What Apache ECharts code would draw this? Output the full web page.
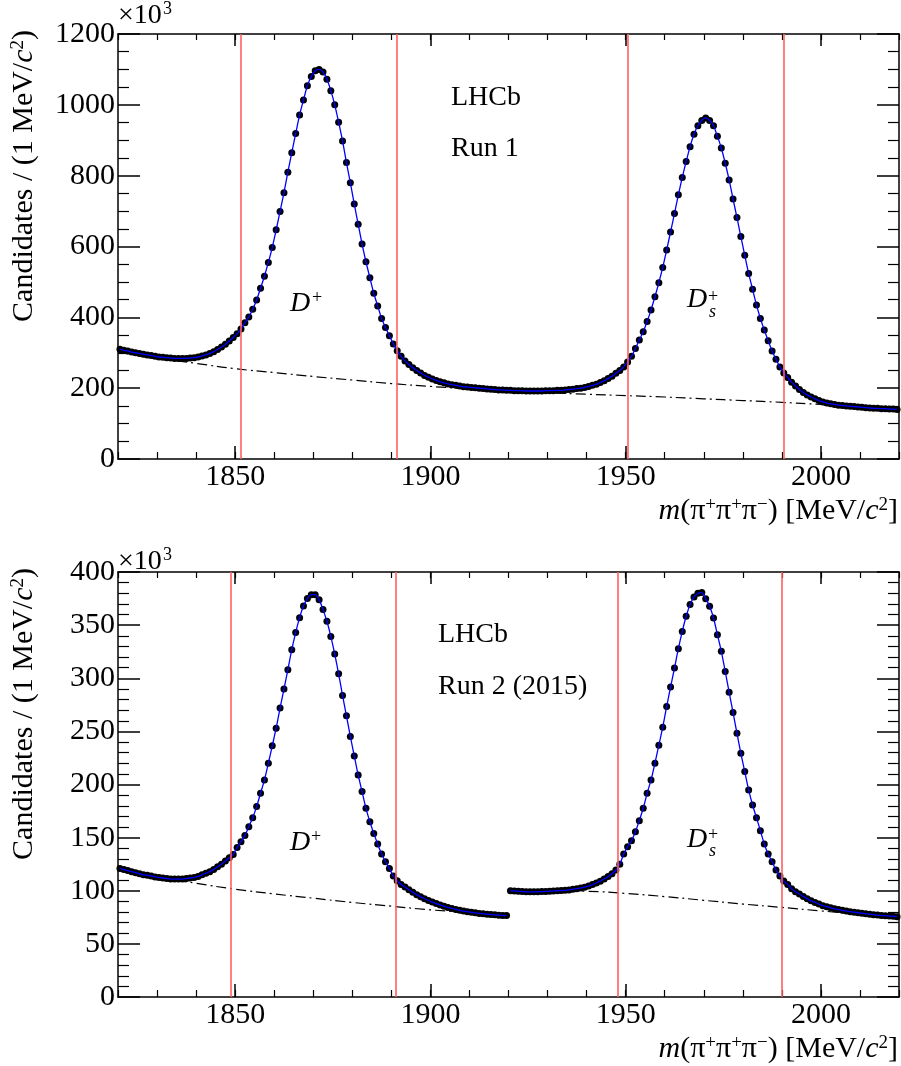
<!DOCTYPE html>
<html>
<head>
<meta charset="utf-8">
<script src="https://cdn.jsdelivr.net/npm/echarts@6/dist/echarts.min.js"></script>
<style>
html,body{margin:0;padding:0;background:#fff;}
#c{width:901px;height:1066px;}
</style>
</head>
<body>
<div id="c"></div>
<script>
// ---------- DATA (values in units of 10^3 candidates per 1 MeV/c^2 bin) ----------
const binStart = 1820.5;           // first bin centre
const xMajor = [1850, 1900, 1950, 2000];

// Run 1 : 200 bins, 1820.5 ... 2019.5
const run1Counts = [
  310,307,305,302,300,298,296,294,292,290,288,287,286,285,284,284,284,284,285,286,
  288,291,294,298,303,309,316,324,333,343,354,
  367,385,401,423,449,482,516,555,597,647,699,752,810,865,919,971,1014,1054,1080,1096,
  1100,1093,1072,1040,1000,951,898,837,780,720,663,607,557,512,468,432,397,371,348,325,306,
  290,277,267,258,250,243,236,231,226,222,218,215,212,210,208,206,204,203,202,201,
  200,199,198,197,196,195,195,194,194,193,193,193,192,192,192,192,192,193,193,193,
  194,194,195,196,197,199,200,202,205,208,211,216,221,227,234,242,250,
  260,274,290,312,336,359,388,421,458,498,541,590,641,693,746,795,840,882,917,941,956,963,
  956,941,911,878,835,788,734,682,628,575,524,479,435,397,364,334,305,282,260,243,230,
  217,206,196,188,181,175,170,165,161,158,156,154,152,151,150,149,148,147,146,145,
  144,143,143,142,142,141,141,140
];

// Run 2 (2015) : two data-taking segments
const run2LeftCounts = [   // 1820.5 ... 1919.5
  121,120,119,118,117,116,115,114.5,114,113,112.5,112,111.5,111,111,111,111,111.5,112,112.5,
  113.5,115,116.5,118,120,122.5,125,128,131,
  134.2,140.8,146.2,152.1,160.3,168.8,179.2,191.7,204.3,220,236.4,253,271.9,289.8,308,326.9,
  343,357,368,375,378.7,
  378.7,374,364.6,353.6,339.4,322.8,304.2,283.8,264.6,245.2,226.9,209,193.3,177.6,165,154,
  144,134.5,127.3,121,113.8,109.4,
  106,103.5,101,98.5,96.3,94.3,92.5,90.8,89.3,87.9,86.6,85.4,84.3,83.3,82.4,81.6,80.9,80.3,
  79.7,79.2,78.7,78.3,77.9,77.6,77.3,77,76.8,76.6
];
const run2RightCounts = [  // 1920.5 ... 2019.5
  100,99.8,99.5,99.3,99,99,99,99,99.2,99.4,99.6,99.8,100,100.2,100.4,100.8,101.3,101.9,102.6,
  103.4,104.5,105.8,107.3,109,111,113.3,116,119.5,
  125,134.5,141.4,147.1,155.6,166,177.6,191.7,204.3,220,237,254,273.4,291.7,309.6,327.8,344.1,
  358.3,369.3,376.5,380,380.6,
  374.9,367.7,356.7,341,325.3,306.4,286.9,267.8,248.3,229.4,212.2,194.9,180.7,168.8,156.5,144,
  134.5,127.3,119.5,113.8,109.1,
  106,102,99,97,94.5,92.5,90.5,89,87.5,86,85,84,83,82.3,81.6,81,80.3,79.8,79.3,78.8,78.3,77.9,
  77.5,77.1,76.8,76.5,76.2,75.9,75.6
];

// background components (dash-dot)
const bgRun1X = [1820,1830,1840,1850,1860,1870,1880,1890,1900,1910,1920,1930,1940,1950,1960,1970,1980,1990,2000,2010,2020];
const bgRun1  = [302,285,270,255,244,233,223,213,205,198,192,187,183,179,175,170,165,160,154,147,140];
const bgRun2LX = [1820,1830,1840,1850,1860,1870,1880,1890,1900,1910,1920];
const bgRun2L  = [121,113,107,101.5,97,93,89,85.5,82,79.5,76.5];
const bgRun2RX = [1920,1930,1940,1950,1960,1970,1980,1990,2000,2010,2020];
const bgRun2R  = [100,100,99.5,97.5,94.5,91,87.5,84.3,81,78,75.5];

// selection windows (red lines)
const cutsRun1 = [1851.4, 1891.4, 1950.6, 1990.6];
const cutsRun2 = [1849, 1891, 1948, 1990];

// axis ranges
const yMaxRun1 = 1200, yStepRun1 = 200, yMinorRun1 = 4;
const yMaxRun2 = 400,  yStepRun2 = 50,  yMinorRun2 = 5;

// ---------- helpers ----------
const FONT = "'Liberation Serif','Times New Roman',serif";
function pairs(start, vals) { return vals.map((v, i) => [start + i, v]); }
function xyPairs(xs, ys) { return xs.map((x, i) => [x, ys[i]]); }

const grids = [
  {left: 118, top: 34, right: 2, bottom: 607},
  {left: 118, top: 572, right: 2, bottom: 69}
];

const xAxes = [], yAxes = [];
[0, 1].forEach(g => {
  const common = {gridIndex: g, type: 'value', min: 1820, max: 2020,
    splitLine: {show: false}};
  xAxes.push(Object.assign({}, common, {position: 'bottom',
    axisLine: {show: true, onZero: false, lineStyle: {color: '#000', width: 1.5}},
    axisTick: {show: true, inside: true, length: 13, customValues: xMajor, lineStyle: {color: '#000', width: 1.5}},
    axisLabel: {show: true, customValues: xMajor, formatter: v => String(v), fontFamily: FONT, fontSize: 30, color: '#000', margin: 3}
  }));
  xAxes.push(Object.assign({}, common, {position: 'top',
    axisLine: {show: true, onZero: false, lineStyle: {color: '#000', width: 1.5}},
    axisTick: {show: true, inside: true, length: 12, customValues: xMajor, lineStyle: {color: '#000', width: 1.5}},
    axisLabel: {show: false}
  }));
  xAxes.push(Object.assign({}, common, {position: 'bottom', interval: 10,
    axisLine: {show: false, onZero: false},
    axisTick: {show: true, inside: true, length: 7, lineStyle: {color: '#000', width: 1.2}},
    axisLabel: {show: false}
  }));
  xAxes.push(Object.assign({}, common, {position: 'top', interval: 10,
    axisLine: {show: false, onZero: false},
    axisTick: {show: true, inside: true, length: 6, lineStyle: {color: '#000', width: 1.2}},
    axisLabel: {show: false}
  }));
  const ymax = g === 0 ? yMaxRun1 : yMaxRun2;
  const ystep = g === 0 ? yStepRun1 : yStepRun2;
  const yminor = g === 0 ? yMinorRun1 : yMinorRun2;
  ['left', 'right'].forEach(pos => {
    yAxes.push({gridIndex: g, type: 'value', position: pos, min: 0, max: ymax, interval: ystep,
      splitLine: {show: false}, minorSplitLine: {show: false},
      axisLine: {show: true, onZero: false, lineStyle: {color: '#000', width: 1.5}},
      axisTick: {show: true, inside: true, length: 22, lineStyle: {color: '#000', width: 1.5}},
      minorTick: {show: true, splitNumber: yminor, length: 11, lineStyle: {color: '#000', width: 1.2}},
      axisLabel: {show: pos === 'left', formatter: v => String(v), fontFamily: FONT, fontSize: 30, color: '#000', margin: 3}
    });
  });
});

function panelSeries(g, segments, bgSegs, cuts) {
  const xi = 4 * g, yi = 2 * g;
  const out = [];
  bgSegs.forEach((bg, k) => {
    const s = {type: 'line', xAxisIndex: xi, yAxisIndex: yi, data: bg, smooth: true,
      showSymbol: false, silent: true, z: 2,
      lineStyle: {color: '#000', width: 1.2, type: [10, 4, 2, 4]}};
    if (k === 0) {
      s.markLine = {silent: true, symbol: 'none', label: {show: false}, animation: false,
        lineStyle: {color: '#ff6060', width: 1.6, type: 'solid'},
        data: cuts.map(c => ({xAxis: c}))};
    }
    out.push(s);
  });
  const allPts = [].concat(...segments);
  out.push({type: 'scatter', xAxisIndex: xi, yAxisIndex: yi, data: allPts, symbol: 'circle',
    symbolSize: 7, itemStyle: {color: '#000', opacity: 1}, silent: true, z: 3});
  segments.forEach(seg => {
    out.push({type: 'line', xAxisIndex: xi, yAxisIndex: yi, data: seg, smooth: 0.3,
      showSymbol: false, silent: true, z: 4,
      lineStyle: {color: '#0000ff', width: 1.3}});
  });
  return out;
}

const series = [].concat(
  panelSeries(0, [pairs(binStart, run1Counts)], [xyPairs(bgRun1X, bgRun1)], cutsRun1),
  panelSeries(1, [pairs(binStart, run2LeftCounts), pairs(binStart + run2LeftCounts.length, run2RightCounts)],
    [xyPairs(bgRun2LX, bgRun2L), xyPairs(bgRun2RX, bgRun2R)], cutsRun2)
);

// ---------- text ----------
function txt(x, y, text, opt) {
  return {type: 'text', x: x, y: y, silent: true, z: 100,
    style: Object.assign({text: text, fontFamily: FONT, fontSize: 28, fill: '#000',
      align: 'left', verticalAlign: 'middle'}, opt || {})};
}
const richTitle = {
  n: {fontFamily: FONT, fontSize: 30},
  i: {fontFamily: FONT, fontSize: 30, fontStyle: 'italic'},
  s: {fontFamily: FONT, fontSize: 19, verticalAlign: 'top'}
};
const xTitle = '{i|m}{n|(π}{s|+}{n|π}{s|+}{n|π}{s|−}{n|) [MeV/}{i|c}{s|2}{n|]}';
const yTitle = '{n|Candidates / (1 MeV/}{i|c}{s|2}{n|)}';
const richY = {
  n: {fontFamily: FONT, fontSize: 30},
  i: {fontFamily: FONT, fontSize: 30, fontStyle: 'italic'},
  s: {fontFamily: FONT, fontSize: 19, verticalAlign: 'top'}
};

const graphics = [];
[[0, 0, 0], [1, 538, 8]].forEach(([g, dy, dx10]) => {
  graphics.push(txt(118, 16 + dy + dx10, '×10'));
  graphics.push(txt(163, 9 + dy + dx10, '3', {fontSize: 18}));
  graphics.push(txt(898, 511 + dy, xTitle, {align: 'right', rich: richTitle}));
  graphics.push({type: 'text', x: 24, y: 30 + dy, rotation: Math.PI / 2, silent: true, z: 100,
    style: {text: yTitle, rich: richY, fontFamily: FONT, fontSize: 30, fill: '#000',
      align: 'right', verticalAlign: 'middle'}});
});
// panel annotations
graphics.push(txt(451, 97.5, 'LHCb'));
graphics.push(txt(451, 149, 'Run 1'));
graphics.push(txt(438, 635, 'LHCb'));
graphics.push(txt(438, 686.5, 'Run 2 (2015)'));
// D+ labels
graphics.push(txt(290, 304, 'D', {fontStyle: 'italic'}));
graphics.push(txt(312, 298, '+', {fontSize: 18}));
graphics.push(txt(290, 842.5, 'D', {fontStyle: 'italic'}));
graphics.push(txt(311, 837, '+', {fontSize: 18}));
// Ds+ labels
graphics.push(txt(687, 300, 'D', {fontStyle: 'italic'}));
graphics.push(txt(708, 297, '+', {fontSize: 18}));
graphics.push(txt(709, 312, 's', {fontSize: 18, fontStyle: 'italic'}));
graphics.push(txt(687, 839.5, 'D', {fontStyle: 'italic'}));
graphics.push(txt(708, 835, '+', {fontSize: 18}));
graphics.push(txt(709, 851, 's', {fontSize: 18, fontStyle: 'italic'}));

const chart = echarts.init(document.getElementById('c'), null, {renderer: 'canvas'});
chart.setOption({
  animation: false,
  backgroundColor: '#fff',
  grid: grids,
  xAxis: xAxes,
  yAxis: yAxes,
  series: series,
  graphic: graphics
});
</script>
</body>
</html>
